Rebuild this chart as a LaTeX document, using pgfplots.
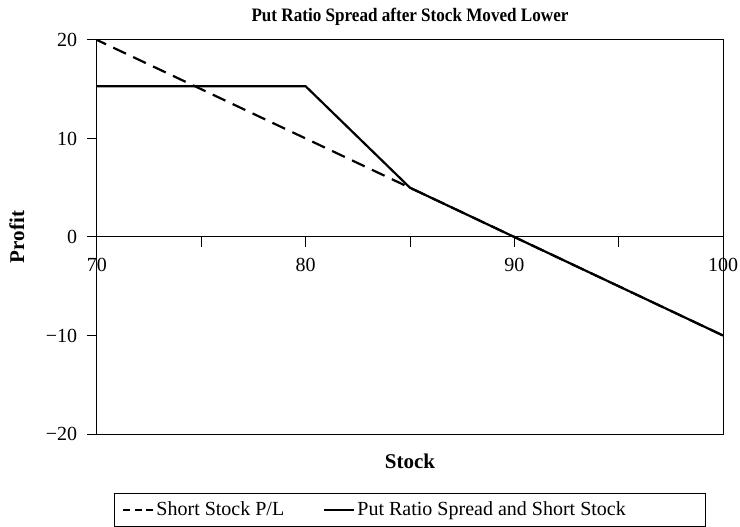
\documentclass[border=0pt]{standalone}
\usepackage{fontspec}
\setmainfont{Liberation Serif}
\usepackage{pgfplots}
\pgfplotsset{compat=1.18}
\begin{document}
\fontsize{20bp}{24bp}\selectfont
\begin{tikzpicture}
\begin{axis}[
  at={(0,0)}, anchor=south west,
  scale only axis, width=626bp, height=394bp,
  xmin=70, xmax=100, ymin=-20, ymax=20,
  axis x line=middle, axis y line=left,
  axis line style={-, line width=1bp},
  hide obscured x ticks=false, hide obscured y ticks=false,
  xtick={70,80,90,100}, minor xtick={75,85,95},
  xticklabels={70,80,90,100},
  ytick={-20,-10,0,10,20},
  yticklabels={−20,−10,0,10,20},
  tick align=outside,
  major tick length=10bp, minor tick length=10bp,
  tick style={black, line width=1bp},
  tick label style={font=\fontsize{20bp}{24bp}\selectfont},
  xticklabel style={yshift=-4bp},
  yticklabel style={xshift=-3bp},
  every axis x label/.style={at={(axis description cs:0.5,-0.07)},anchor=center,font=\fontsize{21bp}{24bp}\selectfont\bfseries},
  every axis y label/.style={at={(axis description cs:-0.128,0.5)},rotate=90,anchor=center,font=\fontsize{21bp}{24bp}\selectfont\bfseries},
  xlabel={Stock}, ylabel={Profit},
  title={\scalebox{0.9}[1]{Put Ratio Spread after Stock Moved Lower}},
  every axis title/.style={at={(axis description cs:0.5,1.058)},anchor=center,font=\fontsize{19bp}{22bp}\selectfont\bfseries},
  legend columns=2,
  legend style={at={(axis description cs:0.5,-0.15)}, anchor=north, draw=black, line width=1bp,
    inner xsep=8bp, inner ysep=6bp,
    font=\fontsize{20bp}{24bp}\selectfont,
    nodes={inner xsep=2bp},
    /tikz/every odd column/.append style={column sep=0bp},
    /tikz/every even column/.append style={column sep=30bp}},
  legend image code/.code={\draw[#1] (0bp,0bp) -- (30bp,0bp);},
  clip=false,
]
\addlegendimage{black, line width=2bp, dash pattern=on 7bp off 4.5bp}
\addlegendentry{\makebox[135bp][l]{Short Stock P/L}}
\addlegendimage{black, line width=2bp}
\addlegendentry{\makebox[338bp][l]{Put Ratio Spread and Short Stock}}
\addplot[forget plot, black, line width=2.2bp, dash pattern=on 14bp off 8bp, dash phase=4bp] coordinates {(70,20) (85,5) (100,-10)};
\addplot[forget plot, black, line width=2.2bp] coordinates {(70,15.3) (80,15.3) (85,5) (100,-10)};
\draw[line width=1bp] (rel axis cs:0,0) rectangle (rel axis cs:1,1);
\end{axis}
\pgfresetboundingbox
\path[use as bounding box] (-97bp,-93bp) rectangle (643bp,434bp);
\end{tikzpicture}
\end{document}
